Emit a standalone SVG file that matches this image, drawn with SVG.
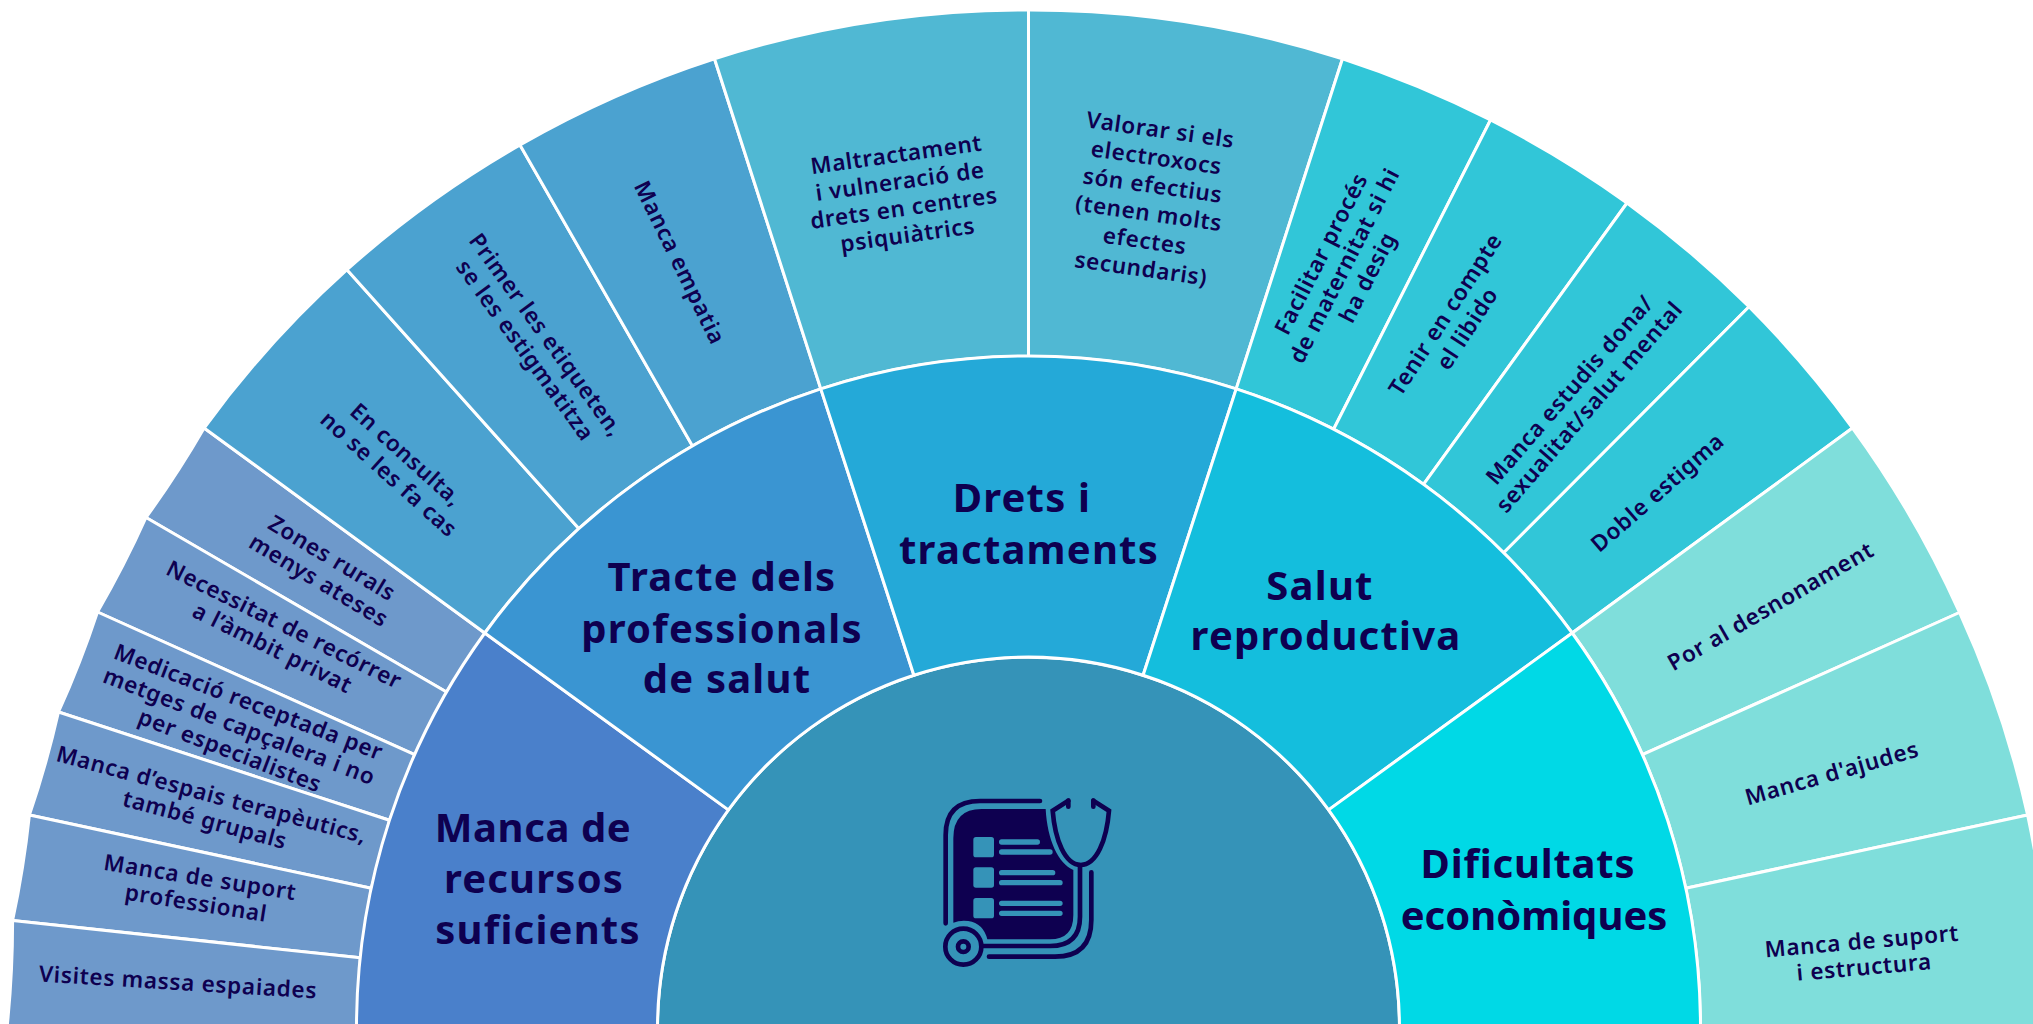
<svg xmlns="http://www.w3.org/2000/svg" width="2033" height="1024" viewBox="0 0 2033 1024">
<style>
.s{stroke:#fff;stroke-width:3;stroke-linejoin:round}
text{font-family:"Noto Sans","DejaVu Sans",sans-serif;fill:#0e0050;text-anchor:middle}
.m{font-size:40px;font-weight:700;letter-spacing:1.2px}
.t{font-size:22.5px;font-weight:600;letter-spacing:.7px}
.a{fill:#6e99cb}.b{fill:#4ba2d0}.c{fill:#50b8d3}.d{fill:#31c6d8}.e{fill:#7fdedb}
.bg{fill:#3593b8}
</style>
<rect width="2033" height="1024" fill="#fff"/>
<g id="center">
<path class="s bg" d="M657.500 1028A371 371 0 0 1 1399.500 1028Z"/>
<g id="icon" transform="translate(900 760) scale(.33333)" fill="none" stroke-linecap="round">
<path fill="#0e0050" d="M437 147C442 240 475 310 520 330V465Q520 538 450 538H262Q250 490 205 483Q180 480 160 488V235Q160 147 245 147Z"/>
<g stroke="#0e0050" stroke-width="14">
<path d="M420 123H240Q137 123 137 225V490"/>
<path d="M505 122L458 152C465 240 495 315 542 315C590 315 620 240 627 152L580 122"/>
<path d="M505 122V140M580 122V140"/>
<path d="M540 315V470Q540 558 450 558H250"/>
<path d="M574 337V480Q574 590 465 590H267"/>
<circle cx="190" cy="560" r="54"/>
<circle cx="190" cy="560" r="16"/>
</g>
<g fill="#3593b8"><rect x="220" y="231" width="62" height="61" rx="8"/><rect x="220" y="322" width="62" height="61" rx="8"/><rect x="220" y="414" width="62" height="61" rx="8"/></g>
<g stroke="#3593b8" stroke-width="16"><path d="M305 246H412M305 276H450M305 338H458M305 368H480M305 430H480M305 460H480"/></g>
</g>
</g>
<g id="connectors">
<g id="recursos-outer">
<path class="s a" d="M204.100 428A1021 1018 0 0 1 146 517.500L446.500 692A672 672 0 0 0 484.800 633Z"/>
<path class="s a" d="M146 517.500A1021 1018 0 0 1 97.500 612L414.600 754.700A672 672 0 0 0 446.500 692Z"/>
<path class="s a" d="M97.500 612A1021 1018 0 0 1 58.500 712L389.400 820.300A672 672 0 0 0 414.600 754.700Z"/>
<path class="s a" d="M58.500 712A1021 1018 0 0 1 29.400 815L371.200 888.300A672 672 0 0 0 389.400 820.300Z"/>
<path class="s a" d="M29.400 815A1021 1018 0 0 1 12.600 920.500L360.200 957.800A672 672 0 0 0 371.200 888.300Z"/>
<path class="s a" d="M12.600 920.500A1021 1018 0 0 1 7 1028H356.500A672 672 0 0 0 360.200 957.800Z"/>
</g>
<g id="tracte-outer">
<path class="s b" d="M204.100 428A1021 1018 0 0 1 347 269.700L578.800 528.600A672 672 0 0 0 484.800 633Z"/>
<path class="s b" d="M347 269.700A1021 1018 0 0 1 520 145L692.500 446A672 672 0 0 0 578.800 528.600Z"/>
<path class="s b" d="M520 145A1021 1018 0 0 1 714.500 58.800L820.800 388.900A672 672 0 0 0 692.500 446Z"/>
</g>
<g id="drets-outer">
<path class="s c" d="M714.500 58.800A1021 1018 0 0 1 1028.500 10V356.500A672 672 0 0 0 820.800 388.900Z"/>
<path class="s c" d="M1028.500 10A1021 1018 0 0 1 1342.500 58.800L1236.200 388.900A672 672 0 0 0 1028.500 356.500Z"/>
</g>
<g id="salut-outer">
<path class="s d" d="M1342.500 58.800A1021 1018 0 0 1 1490.500 120L1333.600 429.200A672 672 0 0 0 1236.200 388.900Z"/>
<path class="s d" d="M1490.500 120A1021 1018 0 0 1 1627 203L1423.500 484.300A672 672 0 0 0 1333.600 429.200Z"/>
<path class="s d" d="M1627 203A1021 1018 0 0 1 1749 306.700L1503.700 552.800A672 672 0 0 0 1423.500 484.300Z"/>
<path class="s d" d="M1749 306.700A1021 1018 0 0 1 1852.500 428L1572.200 633A672 672 0 0 0 1503.700 552.800Z"/>
</g>
<g id="dificultats-outer">
<path class="s e" d="M1852.500 428A1021 1018 0 0 1 1959.500 612.500L1642.400 754.700A672 672 0 0 0 1572.200 633Z"/>
<path class="s e" d="M1959.500 612.500A1021 1018 0 0 1 2027.600 815L1685.800 888.300A672 672 0 0 0 1642.400 754.700Z"/>
<path class="s e" d="M2027.600 815A1021 1018 0 0 1 2050 1028H1700.500A672 672 0 0 0 1685.800 888.300Z"/>
</g>
</g>
<g id="recursos"><path class="s" fill="#4a80cb" d="M356.500 1028A672 672 0 0 1 484.800 633L728.400 809.900A371 371 0 0 0 657.500 1028Z"/>
<text class="m"><tspan x="533" y="842" letter-spacing=".6">Manca de</tspan><tspan x="534" y="893">recursos</tspan><tspan x="538" y="944">suficients</tspan></text></g>
<g id="tracte"><path class="s" fill="#3a95d2" d="M484.800 633A672 672 0 0 1 820.800 388.900L913.900 675.200A371 371 0 0 0 728.400 809.900Z"/>
<text class="m"><tspan x="722" y="591">Tracte dels</tspan><tspan x="722" y="643">professionals</tspan><tspan x="727" y="693">de salut</tspan></text></g>
<g id="drets"><path class="s" fill="#24a9d8" d="M820.800 388.900A672 672 0 0 1 1236.200 388.900L1143.100 675.200A371 371 0 0 0 913.900 675.200Z"/>
<text class="m"><tspan x="1022" y="512">Drets i</tspan><tspan x="1029" y="564">tractaments</tspan></text></g>
<g id="salut"><path class="s" fill="#14bedd" d="M1236.200 388.900A672 672 0 0 1 1572.200 633L1328.600 809.900A371 371 0 0 0 1143.100 675.200Z"/>
<text class="m"><tspan x="1320" y="600">Salut</tspan><tspan x="1326" y="650">reproductiva</tspan></text></g>
<g id="dificultats"><path class="s" fill="#00d9e6" d="M1572.200 633A672 672 0 0 1 1700.500 1028H1399.500A371 371 0 0 0 1328.600 809.900Z"/>
<text class="m"><tspan x="1528" y="878" letter-spacing=".8">Dificultats</tspan><tspan x="1534" y="930" letter-spacing="0">econòmiques</tspan></text></g>
<g id="labels">
<g id="l1" transform="translate(325 570) rotate(31)"><text class="t"><tspan x="0" y="-6">Zones rurals</tspan><tspan x="0" y="20">menys ateses</tspan></text></g>
<g id="l2" transform="translate(278 637) rotate(26.500)"><text class="t"><tspan x="0" y="-6">Necessitat de recórrer</tspan><tspan x="0" y="20">a l’àmbit privat</tspan></text></g>
<g id="l3" transform="translate(239 727) rotate(21)"><text class="t"><tspan x="0" y="-19">Medicació receptada per</tspan><tspan x="0" y="7">metges de capçalera i no</tspan><tspan x="0" y="33">per especialistes</tspan></text></g>
<g id="l4" transform="translate(208 808) rotate(15)"><text class="t"><tspan x="0" y="-6">Manca d’espais terapèutics,</tspan><tspan x="0" y="20">també grupals</tspan></text></g>
<g id="l5" transform="translate(198 891) rotate(9)"><text class="t"><tspan x="0" y="-6">Manca de suport</tspan><tspan x="0" y="20">professional</tspan></text></g>
<g id="l6" transform="translate(178 983) rotate(3.500)"><text class="t"><tspan x="0" y="7">Visites massa espaiades</tspan></text></g>
<g id="l7" transform="translate(397 465) rotate(42)"><text class="t"><tspan x="0" y="-6">En consulta,</tspan><tspan x="0" y="20">no se les fa cas</tspan></text></g>
<g id="l8" transform="translate(535 343) rotate(54)"><text class="t"><tspan x="0" y="-6">Primer les etiqueten,</tspan><tspan x="0" y="20">se les estigmatitza</tspan></text></g>
<g id="l9" transform="translate(679 263) rotate(64)"><text class="t"><tspan x="0" y="7">Manca empatia</tspan></text></g>
<g id="l10" transform="translate(902 195) rotate(-8)"><text class="t"><tspan x="0" y="-33">Maltractament</tspan><tspan x="0" y="-6">i vulneració de</tspan><tspan x="0" y="21">drets en centres</tspan><tspan x="0" y="48">psiquiàtrics</tspan></text></g>
<g id="l11" transform="translate(1151 197) rotate(8)"><text class="t"><tspan x="0" y="-60">Valorar si els</tspan><tspan x="0" y="-32">electroxocs</tspan><tspan x="0" y="-4">són efectius</tspan><tspan x="0" y="24">(tenen molts</tspan><tspan x="0" y="52">efectes</tspan><tspan x="0" y="80">secundaris)</tspan></text></g>
<g id="l12" transform="translate(1345 266) rotate(-63)"><text class="t"><tspan x="0" y="-19">Facilitar procés</tspan><tspan x="0" y="7">de maternitat si hi</tspan><tspan x="0" y="33">ha desig</tspan></text></g>
<g id="l13" transform="translate(1457 322) rotate(-57)"><text class="t"><tspan x="0" y="-6">Tenir en compte</tspan><tspan x="0" y="20">el libido</tspan></text></g>
<g id="l14" transform="translate(1580 399) rotate(-49)"><text class="t"><tspan x="0" y="-6">Manca estudis dona/</tspan><tspan x="0" y="20">sexualitat/salut mental</tspan></text></g>
<g id="l15" transform="translate(1658 493) rotate(-41)"><text class="t"><tspan x="0" y="7">Doble estigma</tspan></text></g>
<g id="l16" transform="translate(1771 607) rotate(-30)"><text class="t"><tspan x="0" y="7">Por al desnonament</tspan></text></g>
<g id="l17" transform="translate(1832 774) rotate(-16)"><text class="t"><tspan x="0" y="7">Manca d'ajudes</tspan></text></g>
<g id="l18" transform="translate(1863 955) rotate(-5)"><text class="t"><tspan x="0" y="-6">Manca de suport</tspan><tspan x="0" y="20">i estructura</tspan></text></g>
</g>
</svg>
